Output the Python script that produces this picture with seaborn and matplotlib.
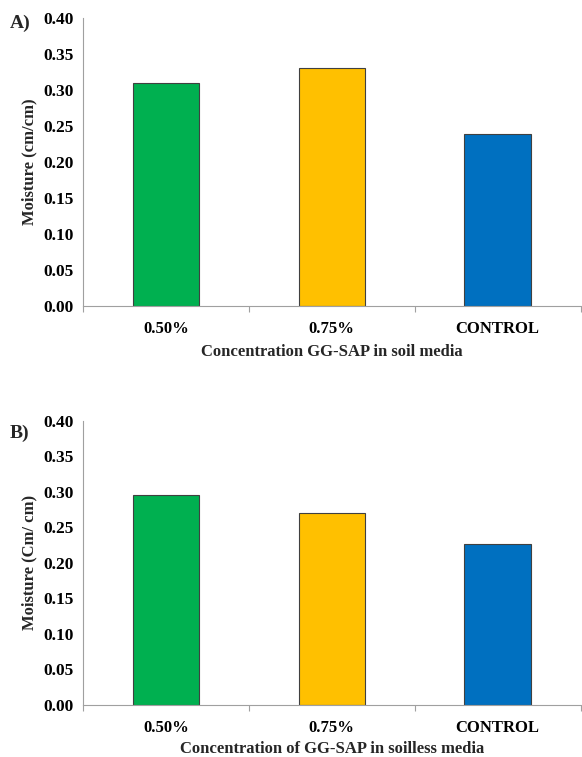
import matplotlib
matplotlib.use("Agg")
import matplotlib.pyplot as plt
import seaborn as sns
import pandas as pd
from matplotlib.ticker import FixedLocator

categories = ["0.50%", "0.75%", "CONTROL"]
soil_moisture = [0.310, 0.331, 0.239]
soilless_moisture = [0.296, 0.270, 0.227]
colors = ["#00B050", "#FFC000", "#0070C0"]
yticks = [0.00, 0.05, 0.10, 0.15, 0.20, 0.25, 0.30, 0.35, 0.40]

sns.set_style("white")
plt.rcParams["font.family"] = ["Liberation Serif", "DejaVu Serif"]
plt.rcParams["font.weight"] = "bold"

fig = plt.figure(figsize=(5.82, 7.57), dpi=100)
axA = fig.add_axes([0.1426, 0.5958, 0.855, 0.3804])
axB = fig.add_axes([0.1426, 0.0687, 0.855, 0.3756])

panels = [
    (axA, soil_moisture, "Moisture (cm/cm)", "Concentration GG-SAP in soil media", "A)", 0.983, 5),
    (axB, soilless_moisture, "Moisture (Cm/ cm)", "Concentration of GG-SAP in soilless media", "B)", 0.957, 3.5),
]

for ax, vals, ylab, xlab, tag, tag_y, xlpad in panels:
    df = pd.DataFrame({"cat": categories, "val": vals})
    sns.barplot(data=df, x="cat", y="val", hue="cat", palette=colors, saturation=1,
                legend=False, width=0.4, edgecolor="#404040", linewidth=0.8, ax=ax)
    ax.set_xlim(-0.5, 2.5)
    ax.set_ylim(0, 0.40)
    ax.set_yticks(yticks)
    ax.set_yticklabels([f"{t:.2f}" for t in yticks], fontsize=12.5, fontweight="bold")
    ax.set_xticks(range(len(categories)))
    ax.set_xticklabels(categories, fontsize=12, fontweight="bold")
    ax.xaxis.set_minor_locator(FixedLocator([-0.5, 0.5, 1.5, 2.5]))
    ax.tick_params(axis="x", which="major", length=0, pad=11, labelcolor="black")
    ax.tick_params(axis="x", which="minor", length=4, color="#a0a0a0", width=0.8,
                   direction="out", bottom=True)
    ax.tick_params(axis="y", which="major", length=4, color="#a0a0a0", width=0.8,
                   direction="out", pad=3, labelcolor="black")
    for s in ["top", "right"]:
        ax.spines[s].set_visible(False)
    for s in ["left", "bottom"]:
        ax.spines[s].set_color("#a0a0a0")
        ax.spines[s].set_linewidth(0.8)
    ax.set_ylabel(ylab, fontsize=12, fontweight="bold", labelpad=4)
    ax.set_xlabel(xlab, fontsize=12, fontweight="bold", labelpad=xlpad)
    ax.text(-0.147, tag_y, tag, transform=ax.transAxes, fontsize=14, fontweight="bold",
            ha="left", va="center")

fig.savefig("out.png", dpi=100)
